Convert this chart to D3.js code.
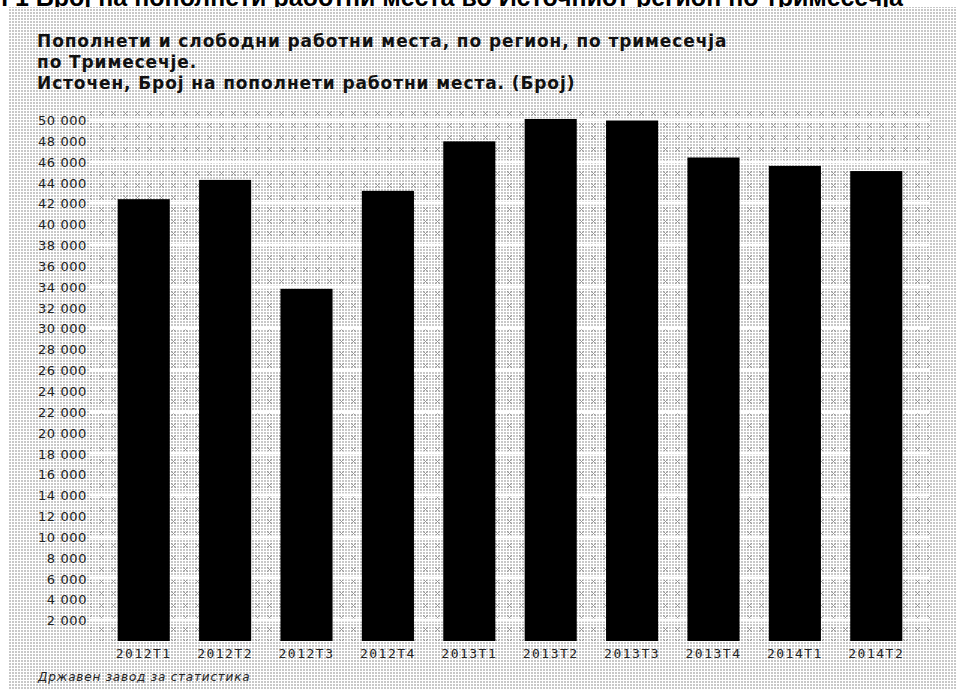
<!DOCTYPE html>
<meta charset="utf-8">
<title>Пополнети работни места</title>
<style>
body { margin: 0; background: #fff; overflow: hidden; }
.tick-y text { font: 13px "DejaVu Sans", sans-serif; fill: #222; letter-spacing: 0.6px; }
.tick-x text { font: 13px "DejaVu Sans Mono", monospace; fill: #222; letter-spacing: 1.5px; }
.title { font: bold 17px "DejaVu Sans", sans-serif; fill: #111; letter-spacing: 0.9px; }
</style>
<body>
<div id="chart"></div>
<script src="https://cdn.jsdelivr.net/npm/d3@7"></script>
<script>

// data
const quarters = ["2012T1", "2012T2", "2012T3", "2012T4", "2013T1",
                  "2013T2", "2013T3", "2013T4", "2014T1", "2014T2"];
const jobs = [42400, 44250, 33800, 43200, 47950, 50100, 49950, 46400, 45600, 45100];
const yTicks = d3.range(2000, 50001, 2000);
const gridTicks = d3.range(2000, 50001, 4000);

const pageTitle = "Графикон 1 Број на пополнети работни места во Источниот регион по тримесечја";
const titleLines = [
    "Пополнети и слободни работни места, по регион, по тримесечја",
    "по Тримесечје.",
    "Источен, Број на пополнети работни места. (Број)"
];
const source = "Државен завод за статистика";

const width = 965, height = 689;
const plot = { left: 90, right: 930, top: 110, bottom: 641 };

const svg = d3.select("#chart").append("svg")
    .attr("width", width)
    .attr("height", height);

// background patterns
const defs = svg.append("defs");
const dots = defs.append("pattern")
    .attr("id", "dots")
    .attr("patternUnits", "userSpaceOnUse")
    .attr("width", 3).attr("height", 3);
dots.append("rect").attr("width", 3).attr("height", 3).attr("fill", "#fff");
dots.append("rect").attr("width", 2).attr("height", 2).attr("fill", "#c8c8c8");

const cross = defs.append("pattern")
    .attr("id", "cross")
    .attr("patternUnits", "userSpaceOnUse")
    .attr("width", 12).attr("height", 12);
cross.append("rect").attr("width", 12).attr("height", 12).attr("fill", "url(#dots)");
cross.append("path")
    .attr("d", "M3,3L8,8M8,3L3,8")
    .attr("stroke", "#999")
    .attr("stroke-width", 1)
    .attr("fill", "none");

// header text, cut at the top of the page like in the source
svg.append("text")
    .attr("x", 903)
    .attr("y", 6)
    .attr("text-anchor", "end")
    .style("font", "bold 25px 'Liberation Sans', sans-serif")
    .text(pageTitle);

svg.append("rect")
    .attr("x", 8).attr("y", 7)
    .attr("width", 949).attr("height", height - 7)
    .attr("fill", "url(#dots)");

svg.append("rect")
    .attr("x", plot.left).attr("y", plot.top)
    .attr("width", plot.right - plot.left).attr("height", plot.bottom - plot.top)
    .attr("fill", "url(#cross)");

// scales
const x = d3.scaleBand()
    .domain(quarters)
    .range([plot.left, plot.right])
    .paddingInner(0.36)
    .paddingOuter(0.34);

const y = d3.scaleLinear()
    .domain([0, 50000])
    .range([plot.bottom, 120]);

// grid
svg.append("g")
    .selectAll("line")
    .data(gridTicks)
    .enter().append("line")
    .attr("x1", plot.left).attr("x2", plot.right)
    .attr("y1", d => Math.round(y(d))).attr("y2", d => Math.round(y(d)))
    .attr("stroke", "#fff")
    .attr("stroke-width", 3);

// bars
svg.append("g")
    .selectAll("rect")
    .data(jobs)
    .enter().append("rect")
    .attr("x", (d, i) => x(quarters[i]))
    .attr("y", d => y(d))
    .attr("width", x.bandwidth())
    .attr("height", d => y(0) - y(d))
    .attr("fill", "#000");

// axes
const fmt = d => d3.format(",")(d).replace(/,/g, " ");

const yAxis = svg.append("g")
    .attr("class", "tick-y")
    .attr("transform", "translate(" + (plot.left - 3) + ",0)")
    .call(d3.axisLeft(y).tickValues(yTicks).tickFormat(fmt).tickSize(0).tickPadding(0));
yAxis.select(".domain").remove();
yAxis.selectAll("text").attr("dy", "0.35em");

const xAxis = svg.append("g")
    .attr("class", "tick-x")
    .attr("transform", "translate(0," + (plot.bottom + 5) + ")")
    .call(d3.axisBottom(x).tickSize(0).tickPadding(3));
xAxis.select(".domain").remove();

// titles
svg.append("g")
    .selectAll("text")
    .data(titleLines)
    .enter().append("text")
    .attr("class", "title")
    .attr("x", 37)
    .attr("y", (d, i) => 47 + i * 21)
    .text(d => d);

svg.append("text")
    .attr("x", 38)
    .attr("y", 681)
    .style("font", "italic 12px 'DejaVu Sans', sans-serif")
    .style("letter-spacing", "0.8px")
    .style("fill", "#222")
    .text(source);
</script>
</body>
